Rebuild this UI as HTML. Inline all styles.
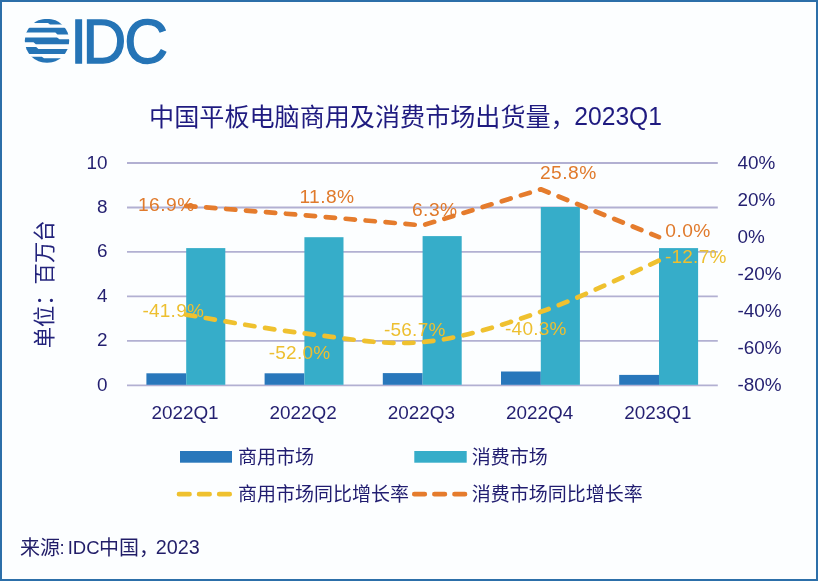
<!DOCTYPE html>
<html lang="zh-CN"><head><meta charset="utf-8"><title>IDC 中国平板电脑市场</title>
<style>
html,body{margin:0;padding:0;background:#fcfeff;}
body{width:818px;height:581px;overflow:hidden;position:relative;font-family:"Liberation Sans","Noto Sans CJK SC",sans-serif;}
.frame{position:absolute;left:0;top:0;width:814px;height:577px;border:2px solid #2c6fa9;background:#fcfeff;}
svg{position:absolute;left:0;top:0;}
text{font-family:"Liberation Sans","Noto Sans CJK SC",sans-serif;}
.ax{font-size:18.9px;fill:#231f70;}
.lo{font-size:19.2px;fill:#e07a2c;letter-spacing:0.45px;}
.ly{font-size:19px;fill:#edbf30;letter-spacing:0.25px;}
.lg{font-size:19px;fill:#211d70;}
</style></head><body>
<div class="frame"></div>
<svg width="818" height="581" viewBox="0 0 818 581">

<g id="logo" fill="#2574b6">
<defs><clipPath id="gc"><circle cx="47" cy="40.85" r="22.2"/></clipPath></defs>
<g clip-path="url(#gc)">
<path d="M24 19H70V24.6H50L48 23.1H24Z"/>
<path d="M24 27.8H70V34.5H57.5L55.3 32.4H24Z"/>
<path d="M24 37.5H57L59.5 39.2H70V44.3H35.8L33.5 42.2H24Z"/>
<path d="M24 47.1H36.2L38.4 48.9H70V54.1H24Z"/>
<path d="M24 56.7H41.8L44 58.2H70V62.8H24Z"/>
</g>
<text transform="translate(0,62.7) scale(0.955,1)" x="73.6 86.5 130.2" y="0 0 0" font-size="63.5" stroke="#2574b6" stroke-width="1.3">IDC</text>
</g>
<text x="149.1" y="125.9" font-size="25.1" fill="#1f1b80">中国平板电脑商用及消费市场出货量，</text>
<text transform="translate(574.3,124.9) scale(0.99,1)" font-size="24.9" fill="#1f1b80">2023Q1</text>
<line x1="127" x2="717.8" y1="385.3" y2="385.3" stroke="#b2b0d2" stroke-width="1.8"/>
<text class="ax" x="107.5" y="390.8" text-anchor="end">0</text>
<line x1="127" x2="717.8" y1="340.8" y2="340.8" stroke="#b2b0d2" stroke-width="1.8"/>
<text class="ax" x="107.5" y="346.3" text-anchor="end">2</text>
<line x1="127" x2="717.8" y1="296.4" y2="296.4" stroke="#b2b0d2" stroke-width="1.8"/>
<text class="ax" x="107.5" y="301.9" text-anchor="end">4</text>
<line x1="127" x2="717.8" y1="251.9" y2="251.9" stroke="#b2b0d2" stroke-width="1.8"/>
<text class="ax" x="107.5" y="257.4" text-anchor="end">6</text>
<line x1="127" x2="717.8" y1="207.5" y2="207.5" stroke="#b2b0d2" stroke-width="1.8"/>
<text class="ax" x="107.5" y="213.0" text-anchor="end">8</text>
<line x1="127" x2="717.8" y1="163.0" y2="163.0" stroke="#b2b0d2" stroke-width="1.8"/>
<text class="ax" x="107.5" y="168.5" text-anchor="end">10</text>
<text class="ax" x="737.5" y="168.5">40%</text>
<text class="ax" x="737.5" y="205.6">20%</text>
<text class="ax" x="737.5" y="242.6">0%</text>
<text class="ax" x="737.5" y="279.6">-20%</text>
<text class="ax" x="737.5" y="316.7">-40%</text>
<text class="ax" x="737.5" y="353.8">-60%</text>
<text class="ax" x="737.5" y="390.8">-80%</text>
<rect x="146.4" y="373.3" width="39.8" height="11.5" fill="#2877bb"/>
<rect x="186.2" y="248.1" width="39.1" height="136.7" fill="#36adc9"/>
<rect x="264.6" y="373.3" width="39.8" height="11.5" fill="#2877bb"/>
<rect x="304.4" y="237.2" width="39.1" height="147.6" fill="#36adc9"/>
<rect x="382.8" y="373.1" width="39.8" height="11.7" fill="#2877bb"/>
<rect x="422.6" y="236.1" width="39.1" height="148.7" fill="#36adc9"/>
<rect x="501.0" y="371.5" width="39.8" height="13.3" fill="#2877bb"/>
<rect x="540.8" y="207.0" width="39.1" height="177.8" fill="#36adc9"/>
<rect x="619.2" y="374.9" width="39.8" height="9.9" fill="#2877bb"/>
<rect x="659.0" y="248.1" width="39.1" height="136.7" fill="#36adc9"/>
<text class="ax" x="185.0" y="419" text-anchor="middle">2022Q1</text>
<text class="ax" x="303.2" y="419" text-anchor="middle">2022Q2</text>
<text class="ax" x="421.4" y="419" text-anchor="middle">2022Q3</text>
<text class="ax" x="539.6" y="419" text-anchor="middle">2022Q4</text>
<text class="ax" x="657.8" y="419" text-anchor="middle">2023Q1</text>
<path d="M186.2 314.7 C205.9 317.8 265.0 328.9 304.4 333.4 C343.8 338.0 383.2 345.7 422.6 342.1 C462.0 338.5 501.4 325.3 540.8 311.8 C580.2 298.2 639.3 269.1 659.0 260.6" fill="none" stroke="#efc12f" stroke-width="4.7" stroke-dasharray="9.3 10.7" stroke-linecap="round" stroke-linejoin="round"/>
<polyline points="186.2,205.8 304.4,215.2 422.6,225.4 540.8,189.3 659.0,237.1" fill="none" stroke="#e57c2d" stroke-width="4.7" stroke-dasharray="9.3 10.7" stroke-linecap="round" stroke-linejoin="round"/>
<text class="lo" x="138" y="210.5">16.9%</text>
<text class="lo" x="299.4" y="202.8">11.8%</text>
<text class="lo" x="412" y="216.4">6.3%</text>
<text class="lo" x="540" y="179.1">25.8%</text>
<text class="lo" x="665.3" y="236.5">0.0%</text>
<text class="ly" x="142.4" y="317.1">-41.9%</text>
<text class="ly" x="268.7" y="358.5">-52.0%</text>
<text class="ly" x="383.9" y="336.4">-56.7%</text>
<text class="ly" x="505" y="334.7">-40.3%</text>
<text class="ly" x="664.9" y="262.9">-12.7%</text>
<text transform="translate(52,284.4) rotate(-90)" text-anchor="middle" font-size="21.3" fill="#23237c">单位：百万台</text>
<rect x="180" y="451" width="52" height="11.7" fill="#2877bb"/>
<text class="lg" x="238" y="463.5">商用市场</text>
<rect x="414.3" y="451" width="52.4" height="11.7" fill="#36adc9"/>
<text class="lg" x="471.7" y="463.5">消费市场</text>
<line x1="179" x2="230" y1="494.2" y2="494.2" stroke="#efc12f" stroke-width="4.7" stroke-dasharray="10.5 9.6" stroke-linecap="round"/>
<text class="lg" x="238" y="500.6">商用市场同比增长率</text>
<line x1="414.3" x2="465" y1="494.2" y2="494.2" stroke="#e57c2d" stroke-width="4.7" stroke-dasharray="10.5 9.6" stroke-linecap="round"/>
<text class="lg" x="471.7" y="500.6">消费市场同比增长率</text>
<text font-size="20" fill="#211d68"><tspan x="20" y="555.1">来源</tspan><tspan x="59.6" y="554" font-size="18.5">:</tspan><tspan x="67.7" y="554" font-size="18.5">IDC</tspan><tspan x="99" y="555.1">中国，</tspan><tspan x="155.8" y="554" font-size="19.8">2023</tspan></text>
</svg></body></html>
